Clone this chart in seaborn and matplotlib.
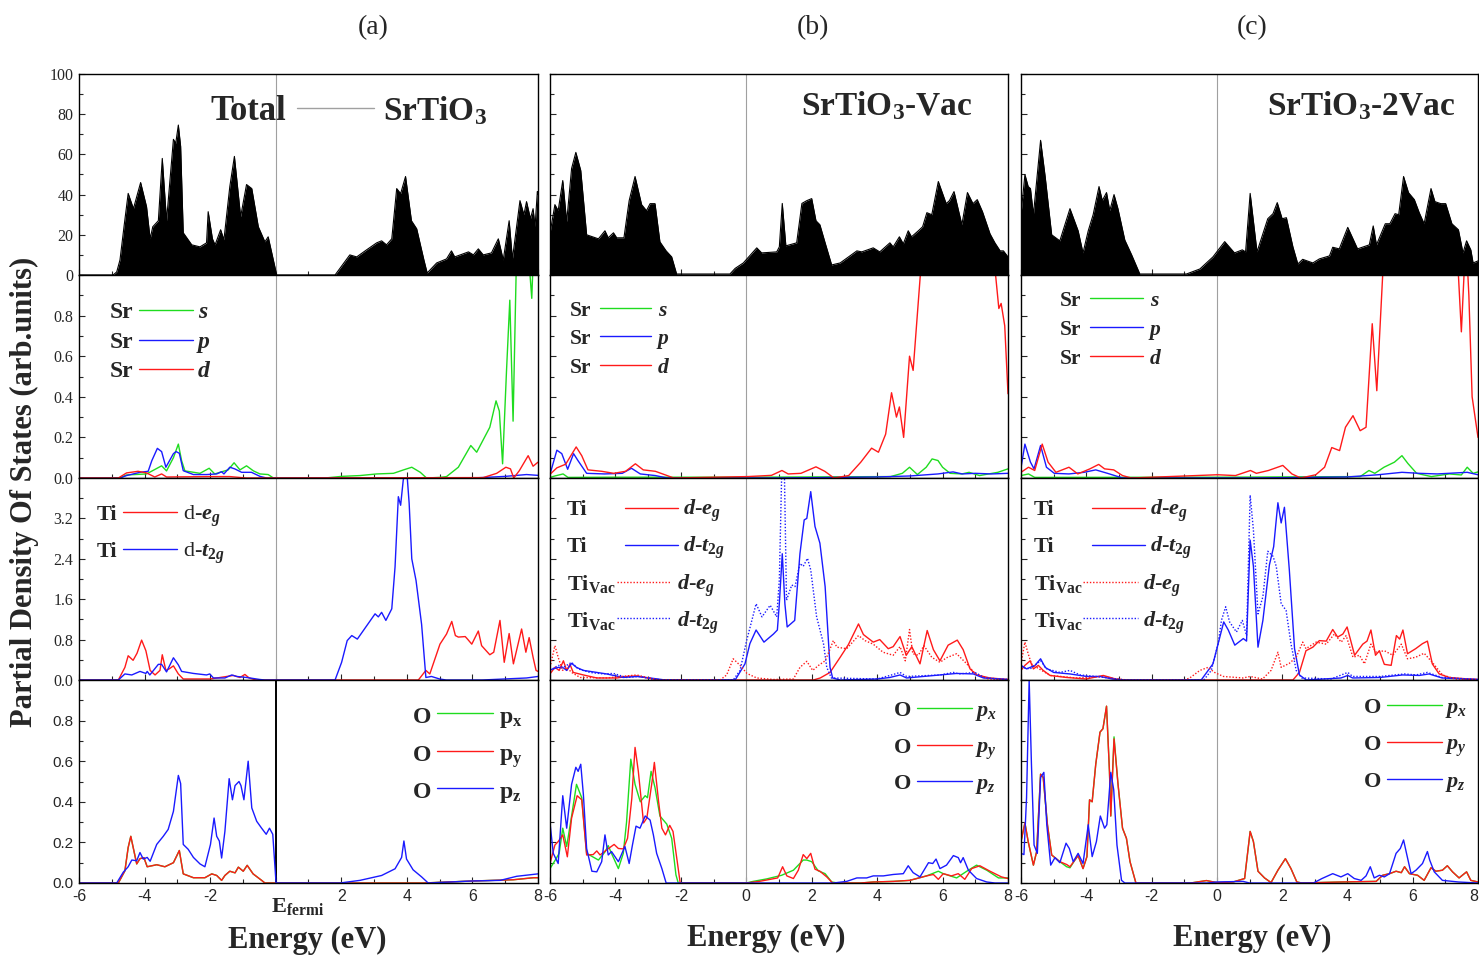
import matplotlib
matplotlib.use("Agg")
import matplotlib.pyplot as plt
import seaborn as sns
from matplotlib.lines import Line2D
from matplotlib.ticker import FixedLocator, MultipleLocator, FormatStrFormatter

sns.set_style("ticks")
plt.rcParams['font.family'] = ['Liberation Serif', 'DejaVu Serif']
plt.rcParams['mathtext.fontset'] = 'custom'
plt.rcParams['mathtext.rm'] = 'Liberation Serif:bold'
plt.rcParams['mathtext.it'] = 'Liberation Serif:italic:bold'
plt.rcParams['mathtext.bf'] = 'Liberation Serif:bold'

# ---------------- data (energy eV, DOS) ----------------
COLUMN_TAGS = ["(a)", "(b)", "(c)"]
X_TICKS = [-6, -4, -2, 0, 2, 4, 6, 8]

A_TOT = [(-6.0, 0), (-4.96, 0), (-4.85, 1.5), (-4.75, 7.5), (-4.62, 25), (-4.50, 40.6), (-4.34, 33), (-4.12, 46),
         (-3.94, 34), (-3.83, 18), (-3.75, 24), (-3.58, 27), (-3.46, 58), (-3.33, 27), (-3.12, 67.5), (-3.05, 65.5),
         (-2.97, 74.6), (-2.90, 64), (-2.82, 21), (-2.56, 15), (-2.31, 14), (-2.11, 16), (-2.06, 31.5), (-1.93, 18),
         (-1.85, 15), (-1.68, 22.5), (-1.58, 17.5), (-1.40, 44), (-1.26, 59), (-1.07, 29), (-0.89, 45), (-0.73, 43),
         (-0.53, 24), (-0.33, 16.5), (-0.23, 19), (0.03, 0), (1.81, 0), (2.26, 10), (2.47, 9), (2.77, 12.5), (3.08, 16),
         (3.23, 17), (3.38, 15), (3.54, 18), (3.69, 43), (3.81, 40.5), (3.96, 49), (4.14, 27), (4.30, 23), (4.52, 7.5),
         (4.62, 1), (4.91, 6), (5.21, 8), (5.36, 12), (5.46, 9), (5.88, 11.5), (6.03, 10), (6.18, 13), (6.33, 10),
         (6.58, 11), (6.79, 18), (6.94, 7.5), (7.12, 27), (7.22, 8), (7.45, 37), (7.57, 30), (7.65, 36.5), (7.77, 28),
         (7.85, 33), (7.91, 24), (7.98, 41.5), (8.0, 40)]
B_TOT = [(-6.0, 20.7), (-5.85, 35), (-5.75, 32), (-5.61, 47), (-5.49, 26.5), (-5.34, 53), (-5.21, 61), (-5.06, 52),
         (-4.88, 20), (-4.52, 18), (-4.32, 22), (-4.22, 18.5), (-4.06, 21), (-3.96, 18.5), (-3.74, 18.5), (-3.58, 37),
         (-3.40, 49), (-3.20, 35), (-3.05, 32), (-2.94, 35.5), (-2.79, 35.5), (-2.64, 16.5), (-2.45, 12), (-2.28, 9),
         (-2.13, 0.5), (-0.50, 0.5), (-0.34, 3.3), (-0.09, 6), (0.32, 13.5), (0.47, 11), (0.93, 11.5), (1.01, 14),
         (1.10, 35.6), (1.21, 14.5), (1.54, 16), (1.70, 35.6), (1.85, 37), (2.00, 38), (2.13, 27), (2.25, 25),
         (2.41, 16), (2.61, 5), (2.87, 6), (3.38, 12), (3.53, 11.5), (3.88, 13.5), (4.08, 11.5), (4.39, 16), (4.49, 14),
         (4.68, 19), (4.80, 15.5), (4.95, 22), (5.05, 19), (5.26, 22), (5.39, 24), (5.52, 31), (5.67, 30), (5.87, 46.5),
         (6.11, 35.5), (6.21, 37), (6.35, 41.5), (6.59, 25), (6.76, 41), (6.93, 35.5), (7.06, 37.5), (7.22, 31.5),
         (7.45, 20.5), (7.60, 16), (7.76, 12), (7.86, 12), (8.0, 9)]
C_TOT = [(-6.0, 30), (-5.88, 50), (-5.78, 44), (-5.71, 43), (-5.62, 30), (-5.40, 67), (-5.26, 49), (-5.06, 20),
         (-4.81, 17), (-4.50, 33), (-4.25, 22), (-4.10, 11), (-3.94, 22), (-3.79, 30), (-3.61, 44), (-3.51, 37),
         (-3.38, 41), (-3.28, 32), (-3.15, 40), (-3.03, 33), (-2.82, 17.4), (-2.61, 10), (-2.36, 0.5), (-0.93, 0.5),
         (-0.52, 3), (-0.12, 9), (0.24, 16.6), (0.54, 11), (0.78, 12.5), (0.88, 11.5), (1.02, 40.6), (1.23, 11.5),
         (1.56, 28), (1.72, 30.5), (1.85, 36), (2.00, 28), (2.13, 28.5), (2.33, 14), (2.48, 5.5), (2.63, 7.8),
         (2.94, 6), (3.14, 8), (3.45, 9.5), (3.55, 13.8), (3.75, 13), (4.01, 23.7), (4.31, 13), (4.67, 15),
         (4.79, 24.4), (4.89, 15), (5.16, 25.5), (5.30, 25.5), (5.46, 30.5), (5.57, 30), (5.72, 49), (5.87, 41),
         (6.05, 37.5), (6.20, 31), (6.35, 25.5), (6.56, 43), (6.68, 36.5), (6.86, 35.5), (7.01, 35.5), (7.20, 25.5),
         (7.40, 22.5), (7.54, 11), (7.65, 17), (7.78, 12.5), (7.85, 6), (8.0, 7)]

# Sr s / p / d
A_SR_S = [(-6, 0), (-4.75, 0), (-4.55, 0.015), (-3.94, 0.02), (-3.48, 0.06), (-3.33, 0.035), (-3.12, 0.10),
          (-2.97, 0.167), (-2.87, 0.085), (-2.77, 0.035), (-2.31, 0.023), (-2.03, 0.048), (-1.86, 0.02), (-1.66, 0.03),
          (-1.45, 0.04), (-1.27, 0.075), (-1.09, 0.04), (-0.89, 0.06), (-0.68, 0.035), (-0.48, 0.02), (-0.23, 0.017),
          (-0.07, 0), (1.5, 0), (2.01, 0.008), (2.57, 0.012), (3.08, 0.02), (3.59, 0.023), (3.90, 0.04), (4.15, 0.053),
          (4.41, 0.028), (4.60, 0), (5.0, 0.003), (5.21, 0.007), (5.57, 0.053), (5.95, 0.16), (6.13, 0.127),
          (6.53, 0.25), (6.72, 0.38), (6.82, 0.33), (6.92, 0.07), (7.04, 0.53), (7.14, 0.876), (7.24, 0.28),
          (7.37, 1.3), (7.55, 1.4), (7.71, 1.1), (7.81, 0.885), (7.88, 1.2), (8.0, 1.3)]
A_SR_P = [(-6, 0), (-4.75, 0), (-4.55, 0.012), (-4.14, 0.028), (-3.89, 0.033), (-3.78, 0.085), (-3.61, 0.146),
          (-3.48, 0.13), (-3.35, 0.053), (-3.12, 0.12), (-3.04, 0.13), (-2.94, 0.122), (-2.82, 0.036), (-2.51, 0.017),
          (-2.11, 0.017), (-1.80, 0.02), (-1.65, 0.031), (-1.58, 0.02), (-1.40, 0.053), (-1.25, 0.045),
          (-1.04, 0.028), (-0.74, 0.028), (-0.48, 0.008), (-0.28, 0), (6.0, 0), (7.0, 0.008), (7.65, 0.017),
          (8.0, 0.013)]
A_SR_D = [(-6, 0), (-4.80, 0), (-4.55, 0.025), (-4.2, 0.033), (-3.94, 0.025), (-3.69, 0.005), (-3.48, 0.02),
          (-3.33, 0.005), (-2.0, 0.007), (-1.40, 0.007), (-0.9, 0), (6.33, 0.002), (6.74, 0.023), (7.02, 0.053),
          (7.16, 0.045), (7.26, 0), (7.43, 0.036), (7.70, 0.11), (7.85, 0.058), (8.0, 0.078)]
B_SR_S = [(-6, 0.003), (-5.85, 0.01), (-5.6, 0.02), (-5.45, 0.003), (-4, 0.004), (0, 0.004), (4.41, 0.007),
          (4.77, 0.023), (4.99, 0.053), (5.23, 0.017), (5.50, 0.053), (5.68, 0.094), (5.86, 0.086), (6.0, 0.053),
          (6.23, 0.023), (6.59, 0.02), (6.81, 0.028), (7.13, 0.012), (7.69, 0.028), (8.0, 0.045)]
B_SR_P = [(-6, 0.018), (-5.79, 0.137), (-5.64, 0.12), (-5.46, 0.043), (-5.28, 0.12), (-5.15, 0.087), (-4.88, 0.023),
          (-4.33, 0.02), (-3.79, 0.023), (-3.51, 0.048), (-3.24, 0.02), (-2.78, 0.012), (-2.42, 0), (1.0, 0),
          (4.0, 0.005), (5.0, 0.01), (5.86, 0.02), (6.32, 0.03), (6.6, 0.02), (7.0, 0.023), (7.5, 0.02), (8.0, 0.023)]
B_SR_D = [(-6, 0.018), (-5.79, 0.05), (-5.52, 0.068), (-5.2, 0.153), (-5.03, 0.11), (-4.84, 0.04), (-4.42, 0.033),
          (-4.05, 0.023), (-3.69, 0.033), (-3.39, 0.07), (-3.15, 0.04), (-2.78, 0.033), (-2.42, 0.012), (-2.22, 0),
          (0.04, 0.007), (0.77, 0.013), (1.09, 0.037), (1.28, 0.02), (1.67, 0.023), (2.13, 0.055), (2.40, 0.033),
          (2.68, 0), (3.13, 0.012), (3.50, 0.078), (3.83, 0.147), (4.04, 0.127), (4.26, 0.216), (4.44, 0.42),
          (4.59, 0.3), (4.68, 0.35), (4.81, 0.2), (4.99, 0.6), (5.1, 0.53), (5.32, 1.0), (5.5, 1.4), (7.5, 1.4),
          (7.59, 1.05), (7.72, 0.835), (7.79, 0.86), (7.90, 0.75), (8.0, 0.415)]
C_SR_S = [(-6, 0.012), (-5.77, 0.02), (-5.58, 0.003), (0, 0.004), (4.39, 0.007), (4.66, 0.037), (4.84, 0.023),
          (5.12, 0.053), (5.44, 0.078), (5.67, 0.11), (5.85, 0.072), (6.12, 0.023), (6.57, 0.007), (7.12, 0.02),
          (7.49, 0.015), (7.67, 0.053), (7.85, 0.023), (8.0, 0.03)]
C_SR_P = [(-6, 0.05), (-5.88, 0.167), (-5.71, 0.078), (-5.6, 0.045), (-5.40, 0.16), (-5.22, 0.053), (-4.98, 0.023),
          (-4.53, 0.02), (-4.07, 0.028), (-3.71, 0.04), (-3.35, 0.023), (-2.89, 0), (1.0, 0), (4.0, 0.005),
          (4.94, 0.016), (5.67, 0.028), (6.2, 0.023), (6.75, 0.02), (7.67, 0.028), (8.0, 0.016)]
C_SR_D = [(-6, 0.028), (-5.77, 0.053), (-5.58, 0.037), (-5.35, 0.167), (-5.17, 0.078), (-4.93, 0.028), (-4.53, 0.053),
          (-4.26, 0.02), (-3.89, 0.045), (-3.62, 0.067), (-3.44, 0.045), (-3.16, 0.04), (-2.89, 0.012), (-2.62, 0),
          (0.02, 0.016), (0.57, 0.012), (1.03, 0.037), (1.21, 0.023), (1.58, 0.037), (2.02, 0.062), (2.30, 0.02),
          (2.57, 0), (3.03, 0.016), (3.30, 0.053), (3.52, 0.15), (3.76, 0.135), (3.94, 0.25), (4.17, 0.307),
          (4.39, 0.233), (4.57, 0.25), (4.76, 0.76), (4.9, 0.43), (5.08, 1.0), (5.3, 1.4), (7.3, 1.4), (7.40, 1.0),
          (7.49, 0.72), (7.63, 1.2), (7.72, 0.9), (7.82, 0.4), (8.0, 0.2)]

# Ti d-eg / d-t2g (solid: Ti, dotted: Ti_Vac)
A_TI_EG = [(-6, 0), (-4.80, 0), (-4.60, 0.25), (-4.50, 0.48), (-4.35, 0.39), (-4.23, 0.53), (-4.09, 0.79),
           (-3.96, 0.58), (-3.83, 0.19), (-3.68, 0.10), (-3.53, 0.19), (-3.46, 0.50), (-3.35, 0.19), (-3.25, 0.22),
           (-3.12, 0.28), (-2.97, 0.12), (-2.82, 0.02), (-2.0, 0.02), (-1.29, 0.09), (-1.09, 0.05), (-0.94, 0.11),
           (-0.81, 0.04), (-0.6, 0), (4.35, 0), (4.58, 0.19), (4.70, 0.12), (5.01, 0.71), (5.21, 0.91), (5.37, 1.16),
           (5.48, 0.88), (5.57, 0.85), (5.78, 0.86), (5.85, 0.81), (5.98, 0.71), (6.18, 0.97), (6.28, 0.68),
           (6.53, 0.50), (6.65, 0.55), (6.84, 1.18), (6.97, 0.35), (7.12, 0.92), (7.25, 0.32), (7.50, 1.01),
           (7.63, 0.55), (7.73, 0.84), (7.85, 0.45), (7.94, 0.19), (8.0, 0.17)]
A_TI_T2G = [(-6, 0), (-4.80, 0), (-4.60, 0.12), (-4.39, 0.10), (-4.14, 0.17), (-3.96, 0.13), (-3.92, 0.17),
            (-3.84, 0.10), (-3.58, 0.31), (-3.48, 0.31), (-3.33, 0.16), (-3.12, 0.44), (-2.97, 0.30), (-2.87, 0.17),
            (-2.51, 0.13), (-2.11, 0.10), (-2.01, 0.12), (-1.90, 0.04), (-1.55, 0.04), (-1.34, 0.10), (-1.19, 0.07),
            (-0.89, 0.05), (-0.48, 0.01), (-0.33, 0), (1.81, 0), (2.01, 0.35), (2.18, 0.78), (2.32, 0.88),
            (2.49, 0.81), (3.03, 1.31), (3.13, 1.25), (3.23, 1.34), (3.36, 1.18), (3.54, 1.41), (3.64, 2.24),
            (3.74, 3.63), (3.81, 3.46), (3.89, 3.96), (3.99, 4.2), (4.07, 3.5), (4.15, 2.40), (4.28, 1.97),
            (4.45, 1.10), (4.58, 0.05), (4.75, 0.07), (5.0, 0.02), (5.2, 0), (6.3, 0), (7.65, 0.04), (8.0, 0.07)]
B_TI_EG = [(-6, 0.12), (-5.85, 0.25), (-5.72, 0.19), (-5.59, 0.38), (-5.49, 0.19), (-5.39, 0.31), (-5.29, 0.15),
           (-4.98, 0.10), (-4.57, 0.04), (-3.96, 0.04), (-3.66, 0.07), (-3.35, 0.08), (-2.84, 0.02), (-2.6, 0),
           (2.05, 0), (2.26, 0.04), (2.56, 0.15), (2.87, 0.45), (3.12, 0.70), (3.43, 1.11), (3.58, 0.90),
           (3.88, 0.75), (4.08, 0.80), (4.34, 0.62), (4.49, 0.66), (4.70, 0.86), (4.89, 0.49), (5.06, 0.66),
           (5.31, 0.32), (5.53, 0.98), (5.72, 0.60), (5.92, 0.38), (6.17, 0.69), (6.45, 0.79), (6.63, 0.60),
           (6.84, 0.22), (7.04, 0.10), (7.45, 0.04), (8.0, 0.01)]
B_TI_T2G = [(-6, 0.20), (-5.75, 0.25), (-5.59, 0.24), (-5.49, 0.19), (-5.34, 0.33), (-5.19, 0.25), (-4.98, 0.19),
            (-4.57, 0.15), (-4.27, 0.12), (-3.76, 0.05), (-3.35, 0.07), (-2.94, 0.04), (-2.48, 0), (-0.34, 0),
            (-0.04, 0.32), (0.11, 0.72), (0.30, 0.99), (0.54, 0.75), (0.83, 0.91), (0.95, 0.99), (1.01, 1.51),
            (1.10, 2.50), (1.18, 1.51), (1.25, 1.05), (1.48, 1.18), (1.64, 2.50), (1.77, 3.17), (1.85, 3.20),
            (1.97, 3.73), (2.10, 3.04), (2.25, 2.71), (2.41, 1.85), (2.56, 0.25), (2.64, 0.04), (2.87, 0),
            (4.0, 0.02), (4.39, 0.05), (4.70, 0.10), (4.9, 0.04), (5.92, 0.10), (6.43, 0.13), (6.94, 0.12),
            (7.25, 0.04), (8.0, 0.01)]
B_TIV_EG = [(-6, 0.25), (-5.85, 0.68), (-5.75, 0.45), (-5.62, 0.19), (-5.49, 0.25), (-5.34, 0.15), (-5.08, 0.05),
            (-4.27, 0.04), (-3.35, 0.10), (-3.04, 0.05), (-2.7, 0), (-0.8, 0), (-0.60, 0.10), (-0.40, 0.42),
            (-0.19, 0.29), (0.02, 0.13), (0.32, 0.04), (0.83, 0.01), (1.44, 0.02), (1.64, 0.25), (1.85, 0.37),
            (2.03, 0.19), (2.21, 0.29), (2.41, 0.38), (2.54, 0.58), (2.66, 0.78), (2.77, 0.65), (3.07, 0.62),
            (3.43, 0.88), (3.63, 0.78), (3.88, 0.71), (4.18, 0.55), (4.49, 0.49), (4.70, 0.66), (4.86, 0.38),
            (4.99, 1.0), (5.09, 0.52), (5.26, 0.49), (5.43, 0.68), (5.67, 0.45), (5.92, 0.35), (6.12, 0.44),
            (6.43, 0.52), (6.74, 0.32), (6.99, 0.13), (7.4, 0.02), (8.0, 0.01)]
B_TIV_T2G = [(-6, 0.19), (-5.75, 0.29), (-5.59, 0.25), (-5.34, 0.35), (-5.14, 0.22), (-4.78, 0.15), (-4.37, 0.12),
             (-4.06, 0.13), (-3.66, 0.05), (-3.25, 0.07), (-2.9, 0.02), (-2.5, 0), (-0.40, 0), (-0.19, 0.19),
             (0.01, 0.78), (0.17, 1.18), (0.30, 1.51), (0.48, 1.25), (0.73, 1.48), (0.93, 1.25), (1.01, 1.98),
             (1.09, 4.3), (1.16, 4.3), (1.23, 1.58), (1.39, 1.88), (1.49, 1.85), (1.64, 2.31), (1.74, 2.25),
             (1.87, 2.41), (1.97, 2.18), (2.15, 1.25), (2.36, 0.72), (2.46, 0.25), (2.6, 0.04), (4.0, 0.02),
             (4.39, 0.09), (4.70, 0.15), (4.9, 0.07), (5.92, 0.10), (6.33, 0.15), (6.5, 0.12), (6.99, 0.15),
             (7.3, 0.04), (8.0, 0.01)]
C_TI_EG = [(-6, 0.19), (-5.88, 0.29), (-5.72, 0.38), (-5.62, 0.22), (-5.47, 0.29), (-5.32, 0.19), (-5.11, 0.09),
           (-4.6, 0.05), (-4.0, 0.02), (-3.48, 0.09), (-3.1, 0.02), (-2.8, 0), (2.33, 0), (2.53, 0.15), (2.73, 0.58),
           (2.94, 0.65), (3.14, 0.78), (3.35, 0.77), (3.55, 1.00), (3.70, 0.85), (3.86, 0.91), (3.99, 1.05),
           (4.22, 0.49), (4.47, 0.71), (4.60, 0.77), (4.72, 0.99), (4.86, 0.49), (4.98, 0.58), (5.13, 0.31),
           (5.34, 0.29), (5.50, 0.88), (5.60, 0.81), (5.70, 0.99), (5.84, 0.52), (6.09, 0.62), (6.30, 0.72),
           (6.45, 0.77), (6.60, 0.32), (6.81, 0.12), (7.12, 0.05), (7.7, 0.02), (8.0, 0.01)]
C_TI_T2G = [(-6, 0.29), (-5.83, 0.22), (-5.57, 0.29), (-5.40, 0.42), (-5.26, 0.25), (-5.0, 0.15), (-4.5, 0.12),
            (-3.99, 0.07), (-3.58, 0.07), (-3.2, 0.02), (-2.9, 0), (-0.48, 0), (-0.12, 0.32), (0.04, 0.72),
            (0.21, 1.15), (0.35, 0.99), (0.55, 0.69), (0.81, 0.82), (0.91, 0.77), (1.02, 2.77), (1.12, 2.25),
            (1.26, 0.65), (1.41, 1.18), (1.61, 2.28), (1.74, 2.64), (1.87, 3.51), (1.97, 3.11), (2.07, 3.42),
            (2.22, 2.18), (2.38, 0.62), (2.53, 0.10), (2.74, 0), (3.8, 0.04), (4.01, 0.09), (4.16, 0.04),
            (5.0, 0.05), (5.69, 0.10), (6.2, 0.09), (6.5, 0.12), (6.9, 0.04), (8.0, 0.01)]
C_TIV_EG = [(-6, 0.32), (-5.88, 0.75), (-5.78, 0.52), (-5.68, 0.32), (-5.52, 0.25), (-5.37, 0.19), (-5.1, 0.09),
            (-4.3, 0.04), (-3.5, 0.07), (-3.1, 0.02), (-2.7, 0), (-1.0, 0), (-0.83, 0.04), (-0.52, 0.19),
            (-0.27, 0.25), (-0.07, 0.15), (0.2, 0.07), (0.8, 0.04), (1.02, 0.07), (1.4, 0.02), (1.66, 0.19),
            (1.87, 0.55), (1.97, 0.25), (2.22, 0.33), (2.43, 0.45), (2.63, 0.75), (2.73, 0.62), (3.04, 0.75),
            (3.35, 0.71), (3.60, 0.91), (3.81, 0.75), (3.96, 0.88), (4.17, 0.45), (4.37, 0.49), (4.52, 0.32),
            (4.72, 0.71), (4.88, 0.55), (5.13, 0.58), (5.39, 0.49), (5.65, 0.71), (5.84, 0.42), (6.09, 0.45),
            (6.35, 0.53), (6.60, 0.35), (6.91, 0.10), (7.3, 0.02), (8.0, 0.01)]
C_TIV_T2G = [(-6, 0.25), (-5.72, 0.22), (-5.40, 0.38), (-5.21, 0.22), (-4.81, 0.15), (-4.50, 0.19), (-4.19, 0.10),
             (-3.7, 0.07), (-3.3, 0.04), (-2.8, 0), (-0.4, 0), (-0.17, 0.19), (0.04, 0.72), (0.14, 1.18),
             (0.27, 1.45), (0.39, 1.15), (0.60, 0.95), (0.78, 1.18), (0.91, 0.88), (1.02, 3.66), (1.12, 2.97),
             (1.26, 1.31), (1.41, 1.65), (1.56, 2.55), (1.72, 2.45), (1.82, 2.25), (1.97, 1.51), (2.12, 1.38),
             (2.27, 0.72), (2.43, 0.19), (2.6, 0.04), (3.5, 0.02), (4.01, 0.15), (4.16, 0.07), (5.0, 0.07),
             (5.75, 0.12), (6.1, 0.10), (6.45, 0.15), (6.9, 0.05), (8.0, 0.01)]

# O px / py / pz
A_O_PY = [(-6, 0), (-4.80, 0), (-4.60, 0.06), (-4.50, 0.175), (-4.42, 0.23), (-4.24, 0.094), (-4.14, 0.12),
          (-4.02, 0.125), (-3.92, 0.08), (-3.63, 0.09), (-3.38, 0.08), (-3.12, 0.10), (-2.94, 0.16), (-2.82, 0.045),
          (-2.51, 0.026), (-2.16, 0.026), (-1.95, 0.045), (-1.80, 0.037), (-1.65, 0.013), (-1.55, 0.037),
          (-1.40, 0.058), (-1.24, 0.05), (-1.14, 0.078), (-0.99, 0.058), (-0.87, 0.087), (-0.69, 0.045),
          (-0.43, 0.013), (-0.33, 0), (4.5, 0), (6.03, 0.01), (7.25, 0.016), (7.86, 0.026), (8.0, 0.026)]
A_O_PX = list(A_O_PY)  # green px lies exactly under the red py curve
A_O_PZ = [(-6, 0), (-4.85, 0), (-4.65, 0.053), (-4.50, 0.08), (-4.39, 0.113), (-4.24, 0.11), (-4.14, 0.15),
          (-4.04, 0.118), (-3.92, 0.126), (-3.83, 0.107), (-3.63, 0.19), (-3.43, 0.23), (-3.28, 0.264),
          (-3.12, 0.353), (-2.97, 0.53), (-2.90, 0.49), (-2.82, 0.19), (-2.67, 0.166), (-2.51, 0.126),
          (-2.31, 0.094), (-2.16, 0.08), (-1.99, 0.19), (-1.88, 0.32), (-1.80, 0.23), (-1.72, 0.207),
          (-1.65, 0.123), (-1.55, 0.254), (-1.42, 0.514), (-1.32, 0.41), (-1.24, 0.48), (-1.12, 0.50),
          (-1.06, 0.48), (-0.97, 0.41), (-0.84, 0.60), (-0.73, 0.37), (-0.58, 0.304), (-0.43, 0.27), (-0.29, 0.24),
          (-0.19, 0.27), (-0.09, 0.24), (0.01, 0), (1.96, 0), (2.57, 0.013), (3.23, 0.037), (3.64, 0.07),
          (3.84, 0.126), (3.91, 0.207), (3.99, 0.118), (4.19, 0.065), (4.45, 0.03), (4.65, 0), (6.0, 0.01),
          (6.85, 0.013), (7.35, 0.033), (8.0, 0.045)]
B_O_PX = [(-6.0, 0.071), (-5.85, 0.11), (-5.72, 0.146), (-5.61, 0.27), (-5.49, 0.18), (-5.34, 0.33), (-5.19, 0.486),
          (-5.03, 0.42), (-4.88, 0.146), (-4.52, 0.113), (-4.32, 0.153), (-4.22, 0.184), (-4.12, 0.146),
          (-3.91, 0.071), (-3.76, 0.146), (-3.66, 0.30), (-3.53, 0.61), (-3.40, 0.486), (-3.24, 0.40), (-3.09, 0.43),
          (-3.02, 0.42), (-2.91, 0.55), (-2.79, 0.47), (-2.64, 0.33), (-2.43, 0.29), (-2.28, 0.22), (-2.15, 0.04),
          (-2.08, 0), (0.0, 0), (0.21, 0.008), (0.62, 0.02), (1.08, 0.038), (1.44, 0.063), (1.74, 0.113),
          (1.85, 0.113), (2.0, 0.105), (2.20, 0.06), (2.41, 0.046), (2.61, 0.005), (2.8, 0), (3.5, 0),
          (3.88, 0.005), (4.5, 0.008), (5.0, 0.013), (5.51, 0.035), (5.87, 0.058), (6.02, 0.046), (6.43, 0.025),
          (6.74, 0.058), (7.04, 0.088), (7.35, 0.063), (7.71, 0.025), (8.0, 0.025)]
B_O_PY = [(-6.0, 0.096), (-5.85, 0.187), (-5.75, 0.204), (-5.61, 0.237), (-5.47, 0.129), (-5.34, 0.32),
          (-5.17, 0.43), (-5.03, 0.41), (-4.88, 0.138), (-4.68, 0.14), (-4.57, 0.158), (-4.47, 0.138),
          (-4.27, 0.163), (-4.04, 0.19), (-3.91, 0.17), (-3.76, 0.168), (-3.63, 0.22), (-3.50, 0.416),
          (-3.40, 0.668), (-3.30, 0.55), (-3.14, 0.296), (-3.04, 0.32), (-2.88, 0.50), (-2.81, 0.594),
          (-2.68, 0.40), (-2.58, 0.27), (-2.47, 0.237), (-2.34, 0.284), (-2.24, 0.254), (-2.11, 0.105),
          (-2.02, 0), (0.0, 0), (0.4, 0.008), (0.96, 0.025), (1.11, 0.08), (1.24, 0.035), (1.44, 0.022),
          (1.59, 0.063), (1.74, 0.14), (1.85, 0.12), (1.97, 0.146), (2.10, 0.068), (2.25, 0.058), (2.46, 0.03),
          (2.64, 0), (3.5, 0), (3.88, 0.005), (4.5, 0.008), (5.0, 0.013), (5.51, 0.035), (5.72, 0.042),
          (5.87, 0.018), (6.02, 0.046), (6.27, 0.035), (6.48, 0.046), (6.68, 0.018), (6.89, 0.071), (7.14, 0.085),
          (7.45, 0.058), (7.80, 0.03), (8.0, 0.022)]
B_O_PZ = [(-6.0, 0.296), (-5.90, 0.146), (-5.75, 0.096), (-5.61, 0.43), (-5.49, 0.27), (-5.34, 0.486),
          (-5.21, 0.57), (-5.14, 0.55), (-5.06, 0.585), (-4.98, 0.436), (-4.88, 0.17), (-4.72, 0.058),
          (-4.57, 0.055), (-4.42, 0.105), (-4.32, 0.237), (-4.22, 0.138), (-4.12, 0.155), (-3.91, 0.105),
          (-3.71, 0.18), (-3.58, 0.096), (-3.48, 0.187), (-3.37, 0.28), (-3.25, 0.27), (-3.09, 0.33),
          (-2.94, 0.31), (-2.84, 0.237), (-2.74, 0.146), (-2.58, 0.071), (-2.45, 0), (2.66, 0), (3.07, 0.008),
          (3.38, 0.025), (3.68, 0.025), (3.88, 0.035), (4.19, 0.035), (4.49, 0.042), (4.80, 0.046), (4.95, 0.085),
          (5.10, 0.051), (5.31, 0.03), (5.57, 0.10), (5.70, 0.096), (5.80, 0.118), (5.92, 0.071), (6.12, 0.088),
          (6.33, 0.135), (6.48, 0.125), (6.55, 0.10), (6.63, 0.125), (6.79, 0.063), (7.04, 0.022), (7.35, 0.005),
          (7.6, 0), (8.0, 0)]
C_O_PY = [(-6.0, 0.204), (-5.88, 0.296), (-5.78, 0.204), (-5.62, 0.088), (-5.52, 0.155), (-5.40, 0.536),
          (-5.32, 0.52), (-5.19, 0.287), (-5.06, 0.138), (-4.81, 0.105), (-4.60, 0.091), (-4.50, 0.08),
          (-4.35, 0.113), (-4.25, 0.135), (-4.10, 0.071), (-3.98, 0.13), (-3.90, 0.41), (-3.82, 0.40),
          (-3.71, 0.585), (-3.58, 0.743), (-3.49, 0.76), (-3.38, 0.871), (-3.29, 0.55), (-3.25, 0.33),
          (-3.15, 0.71), (-3.03, 0.49), (-2.89, 0.27), (-2.77, 0.22), (-2.66, 0.105), (-2.48, 0), (-0.8, 0),
          (-0.32, 0.012), (0.0, 0.002), (0.5, 0.005), (0.85, 0.022), (1.02, 0.254), (1.12, 0.204), (1.26, 0.058),
          (1.46, 0.025), (1.66, 0.002), (1.87, 0.063), (2.10, 0.12), (2.27, 0.071), (2.45, 0.005), (2.6, 0),
          (3.8, 0.005), (4.88, 0.008), (5.08, 0.038), (5.29, 0.046), (5.49, 0.058), (5.65, 0.051), (5.75, 0.08),
          (5.90, 0.046), (6.15, 0.038), (6.35, 0.013), (6.56, 0.075), (6.71, 0.058), (6.91, 0.063), (7.06, 0.085),
          (7.22, 0.055), (7.42, 0.025), (7.65, 0.055), (7.78, 0.013), (8.0, 0.005)]
C_O_PX = [(-6.0, 0.204), (-5.88, 0.296), (-5.78, 0.204), (-5.62, 0.088), (-5.52, 0.155), (-5.40, 0.536),
          (-5.32, 0.52), (-5.19, 0.287), (-5.06, 0.138), (-4.81, 0.105), (-4.60, 0.08), (-4.50, 0.075),
          (-4.35, 0.113), (-4.25, 0.135), (-4.10, 0.071), (-3.98, 0.13), (-3.90, 0.41), (-3.82, 0.40),
          (-3.71, 0.585), (-3.58, 0.743), (-3.49, 0.76), (-3.38, 0.871), (-3.29, 0.55), (-3.25, 0.33),
          (-3.15, 0.72), (-3.03, 0.49), (-2.89, 0.27), (-2.77, 0.22), (-2.66, 0.105), (-2.48, 0), (-0.8, 0),
          (-0.32, 0.012), (0.0, 0.002), (0.5, 0.005), (0.85, 0.022), (1.02, 0.254), (1.12, 0.204), (1.26, 0.058),
          (1.46, 0.025), (1.66, 0.002), (1.87, 0.063), (2.10, 0.12), (2.27, 0.071), (2.45, 0.005), (2.6, 0),
          (3.8, 0.005), (4.88, 0.008), (5.08, 0.038), (5.29, 0.046), (5.49, 0.058), (5.65, 0.051), (5.75, 0.08),
          (5.90, 0.046), (6.15, 0.038), (6.35, 0.013), (6.56, 0.075), (6.71, 0.058), (6.91, 0.063), (7.06, 0.085),
          (7.22, 0.055), (7.42, 0.025), (7.65, 0.055), (7.78, 0.013), (8.0, 0.005)]
C_O_PZ = [(-6.0, 0.146), (-5.91, 0.14), (-5.83, 0.42), (-5.75, 1.0), (-5.68, 0.585), (-5.60, 0.187), (-5.50, 0.146),
          (-5.40, 0.52), (-5.30, 0.545), (-5.21, 0.287), (-5.09, 0.088), (-4.96, 0.125), (-4.81, 0.10),
          (-4.62, 0.196), (-4.52, 0.17), (-4.40, 0.105), (-4.25, 0.146), (-4.10, 0.096), (-3.94, 0.287),
          (-3.82, 0.13), (-3.69, 0.204), (-3.57, 0.33), (-3.44, 0.27), (-3.37, 0.287), (-3.25, 0.545),
          (-3.16, 0.46), (-3.06, 0.187), (-2.92, 0.013), (-2.82, 0), (-0.3, 0), (0.0, 0.005), (0.8, 0.008),
          (1.0, 0), (2.96, 0), (3.22, 0.022), (3.55, 0.046), (3.80, 0.03), (4.01, 0.046), (4.21, 0.022),
          (4.42, 0.013), (4.57, 0.035), (4.70, 0.08), (4.82, 0.025), (4.98, 0.038), (5.13, 0.03), (5.29, 0.046),
          (5.49, 0.146), (5.62, 0.17), (5.72, 0.212), (5.81, 0.146), (5.95, 0.046), (6.10, 0.063), (6.30, 0.096),
          (6.45, 0.155), (6.52, 0.113), (6.66, 0.055), (6.91, 0.013), (7.4, 0.005), (8.0, 0)]

TITLES = ["SrTiO$_3$", "SrTiO$_3$-Vac", "SrTiO$_3$-2Vac"]

GREEN, RED, BLUE = "#1fdc1f", "#ff1a1a", "#1a1aff"

# ---------------- layout helpers (pixel -> figure fraction) ----------------
W, H = 1479, 958
fig = plt.figure(figsize=(W / 100, H / 100), dpi=100)


def fx(px):
    return px / W


def fy(py):
    return 1 - py / H


COL_L = [79, 550, 1021]
COL_W = [459, 458, 457]
ROW_T = [74, 275, 478, 680]
ROW_B = [275, 478, 680, 883]

SERIF = "Liberation Serif"
SANS = "Liberation Sans"


def curve(ax, pts, color, ls="-", lw=1.0):
    E = [p[0] for p in pts]
    D = [p[1] for p in pts]
    sns.lineplot(x=E, y=D, ax=ax, color=color, linestyle=ls, linewidth=lw,
                 estimator=None, sort=False, legend=False)


axes = [[None] * 3 for _ in range(4)]
for r in range(4):
    for c in range(3):
        ax = fig.add_axes([fx(COL_L[c]), fy(ROW_B[r]), fx(COL_W[c]), (ROW_B[r] - ROW_T[r]) / H])
        axes[r][c] = ax
        ax.set_xlim(-6, 8)
        for s in ax.spines.values():
            s.set_linewidth(1.0)
            s.set_color("black")
        ax.xaxis.set_major_locator(FixedLocator(X_TICKS))
        ax.xaxis.set_minor_locator(MultipleLocator(1))
        ax.tick_params(which="both", direction="in", top=False, right=False, width=0.8)
        ax.tick_params(which="major", length=4)
        ax.tick_params(which="minor", length=3)
        ax.set_xlabel("")
        ax.set_ylabel("")

YLIMS = [(0, 100), (0, 1.0), (0, 4.0), (0, 1.0)]
YMAJ = [[0, 20, 40, 60, 80, 100], [0, 0.2, 0.4, 0.6, 0.8], [0, 0.8, 1.6, 2.4, 3.2], [0, 0.2, 0.4, 0.6, 0.8]]
YMIN = [10, 0.1, 0.4, 0.1]
YFMT = ["%d", "%.1f", "%.1f", "%.1f"]

TOTS = [A_TOT, B_TOT, C_TOT]
SR = [(A_SR_S, A_SR_P, A_SR_D), (B_SR_S, B_SR_P, B_SR_D), (C_SR_S, C_SR_P, C_SR_D)]
TI = [(A_TI_EG, A_TI_T2G, None, None), (B_TI_EG, B_TI_T2G, B_TIV_EG, B_TIV_T2G),
      (C_TI_EG, C_TI_T2G, C_TIV_EG, C_TIV_T2G)]
OX = [(A_O_PX, A_O_PY, A_O_PZ), (B_O_PX, B_O_PY, B_O_PZ), (C_O_PX, C_O_PY, C_O_PZ)]

DOT = (0, (1, 1.3))

for c in range(3):
    # Fermi-level reference lines
    for r in range(4):
        if c == 0 and r == 3:
            axes[r][c].axvline(0, color="black", lw=1.4, zorder=1)
        else:
            axes[r][c].axvline(0, color="#a0a0a0", lw=0.8, zorder=1)
    # total
    ax = axes[0][c]
    E = [p[0] for p in TOTS[c]]
    D = [p[1] for p in TOTS[c]]
    ax.fill_between(E, D, 0, color="black", lw=0, zorder=2)
    curve(ax, TOTS[c], "black", lw=0.8)
    # Sr
    s, p, d = SR[c]
    curve(axes[1][c], s, GREEN)
    curve(axes[1][c], p, BLUE)
    curve(axes[1][c], d, RED)
    # Ti
    eg, t2g, veg, vt2g = TI[c]
    curve(axes[2][c], eg, RED)
    curve(axes[2][c], t2g, BLUE)
    if veg is not None:
        curve(axes[2][c], veg, RED, ls=DOT)
        curve(axes[2][c], vt2g, BLUE, ls=DOT)
    # O
    px_, py_, pz_ = OX[c]
    curve(axes[3][c], px_, GREEN)
    curve(axes[3][c], py_, RED)
    curve(axes[3][c], pz_, BLUE)

for r in range(4):
    for c in range(3):
        ax = axes[r][c]
        ax.set_ylim(*YLIMS[r])
        ax.yaxis.set_major_locator(FixedLocator(YMAJ[r]))
        ax.yaxis.set_minor_locator(MultipleLocator(YMIN[r]))
        ax.yaxis.set_major_formatter(FormatStrFormatter(YFMT[r]))
        if c == 0:
            for lab in ax.get_yticklabels():
                lab.set_fontfamily(SANS if r == 3 else SERIF)
                lab.set_fontsize(11 if r == 3 else 11.5)
            ax.tick_params(axis="y", pad=4)
        else:
            ax.tick_params(axis="y", labelleft=False)
        if r < 3:
            ax.tick_params(axis="x", labelbottom=False)
        else:
            labels = [("" if (c == 0 and t == 0) else str(t)) for t in X_TICKS]
            ax.set_xticks(X_TICKS)
            ax.set_xticklabels(labels, fontfamily=SANS, fontsize=11.5)
            ax.tick_params(axis="x", pad=4)
            if c == 2:
                ax.get_xticklabels()[-1].set_horizontalalignment("right")

# ---------------- texts ----------------
for c, cx in enumerate([373, 813, 1252]):
    fig.text(fx(cx), fy(28), COLUMN_TAGS[c], ha="center", va="center", fontsize=20, fontfamily=SERIF)

for cx, by in [(307, 948), (766, 946), (1252, 946)]:
    fig.text(fx(cx), fy(by), "Energy (eV)", ha="center", va="baseline", fontsize=22,
             fontweight="bold", fontfamily=SERIF)

fig.text(fx(24), fy(492), "Partial Density Of States (arb.units)", rotation=90, ha="center", va="center",
         fontsize=22, fontweight="bold", fontfamily=SERIF)

fig.text(fx(271), fy(912), r"E$_\mathrm{fermi}$", ha="left", va="baseline", fontsize=16,
         fontweight="bold", fontfamily=SERIF)


def fig_line(x0, x1, y, color, ls="-", lw=1.0):
    fig.add_artist(Line2D([fx(x0), fx(x1)], [fy(y), fy(y)], transform=fig.transFigure,
                          color=color, linestyle=ls, linewidth=lw))


def ftext(x, y, s, size, weight="bold", style="normal"):
    fig.text(fx(x), fy(y), s, ha="left", va="baseline", fontsize=size, fontweight=weight,
             fontstyle=style, fontfamily=SERIF)


# row 1 titles
ftext(210, 120, "Total", 25)
fig_line(297, 374, 108, "#a0a0a0", lw=1.0)
ftext(383, 120, TITLES[0], 24)
ftext(801, 115, TITLES[1], 24)
ftext(1267, 115, TITLES[2], 24)

# row 2 legends (Sr s/p/d)
SR_LEG = [dict(sx=110, lx0=139, lx1=193, tx=198, base=[318, 348, 377], off=8, size=17),
          dict(sx=570, lx0=600, lx1=651, tx=658, base=[316, 344, 373], off=8, size=15.5),
          dict(sx=1060, lx0=1090, lx1=1143, tx=1150, base=[306, 335, 364], off=8, size=15.5)]
for L in SR_LEG:
    for b, col, lab in zip(L["base"], [GREEN, BLUE, RED], ["s", "p", "d"]):
        ftext(L["sx"], b, "Sr", L["size"])
        fig_line(L["lx0"], L["lx1"], b - L["off"], col)
        ftext(L["tx"], b, lab, L["size"], style="italic")

# row 3 legends (Ti)
ftext(97, 520, "Ti", 16)
fig_line(123, 177, 512, RED)
ftext(183, 520, r"d-$e_g$", 16, weight="normal")
ftext(97, 557, "Ti", 16)
fig_line(123, 177, 549, BLUE)
ftext(183, 557, r"d-$t_{2g}$", 16, weight="normal")

for sx, lx0, lx1, tx, vx0, vx1, vtx in [(567, 625, 678, 683, 617, 670, 677),
                                        (1034, 1092, 1145, 1150, 1083, 1138, 1143)]:
    ftext(sx, 515, "Ti", 16)
    fig_line(lx0, lx1, 508, RED)
    ftext(tx, 515, r"$d$-$e_g$", 16)
    ftext(sx, 552, "Ti", 16)
    fig_line(lx0, lx1, 545, BLUE)
    ftext(tx, 552, r"$d$-$t_{2g}$", 16)
    ftext(sx, 590, r"Ti$_\mathrm{Vac}$", 16)
    fig_line(vx0, vx1, 582, RED, ls=DOT)
    ftext(vtx, 590, r"$d$-$e_g$", 16)
    ftext(sx, 627, r"Ti$_\mathrm{Vac}$", 16)
    fig_line(vx0, vx1, 618, BLUE, ls=DOT)
    ftext(vtx, 627, r"$d$-$t_{2g}$", 16)

# row 4 legends (O)
O_LEG = [dict(ox=413, lx0=437, lx1=493, tx=499, base=[723, 761, 798], off=10, size=17,
              labs=[r"p$_\mathrm{x}$", r"p$_\mathrm{y}$", r"p$_\mathrm{z}$"], style="normal"),
         dict(ox=894, lx0=917, lx1=972, tx=975, base=[716, 753, 789], off=8, size=16,
              labs=[r"$p_x$", r"$p_y$", r"$p_z$"], style="normal"),
         dict(ox=1364, lx0=1387, lx1=1442, tx=1445, base=[713, 750, 787], off=8, size=16,
              labs=[r"$p_x$", r"$p_y$", r"$p_z$"], style="normal")]
for L in O_LEG:
    for b, col, lab in zip(L["base"], [GREEN, RED, BLUE], L["labs"]):
        ftext(L["ox"], b, "O", L["size"])
        fig_line(L["lx0"], L["lx1"], b - L["off"], col)
        ftext(L["tx"], b, lab, L["size"], style=L["style"])

fig.savefig("out.png", dpi=100)
